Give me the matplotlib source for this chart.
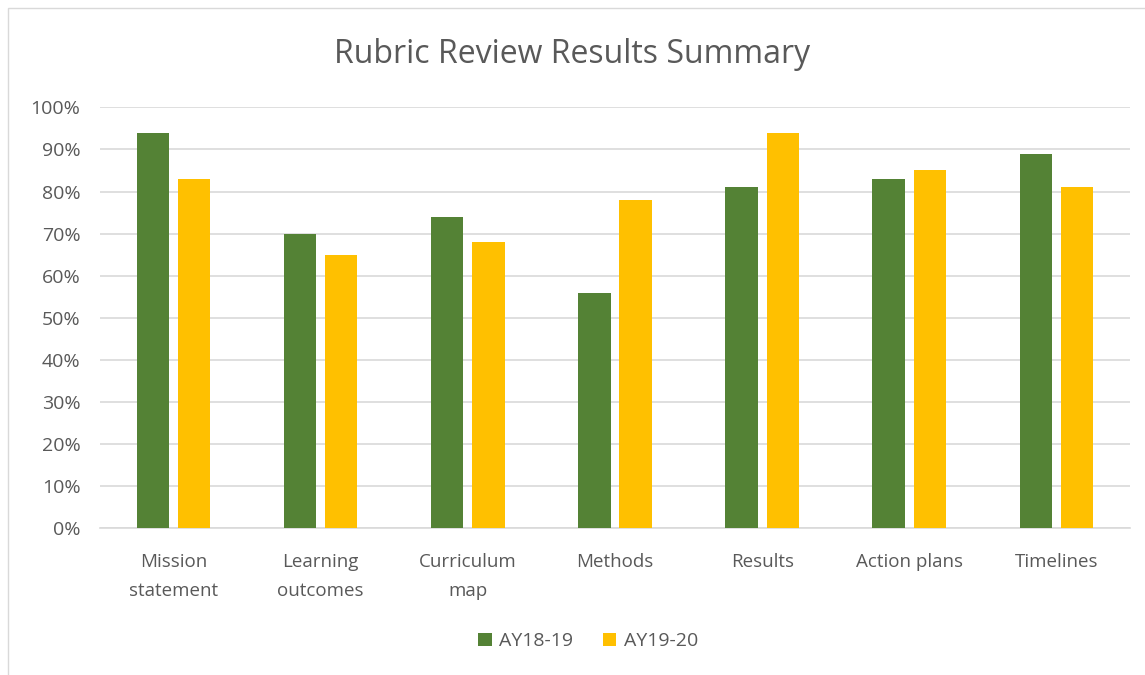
import numpy as np
import matplotlib
matplotlib.use("Agg")
import matplotlib.pyplot as plt
from matplotlib.patches import Rectangle
from matplotlib.ticker import PercentFormatter

categories = ["Mission\nstatement", "Learning\noutcomes", "Curriculum\nmap",
              "Methods", "Results", "Action plans", "Timelines"]
ay1819 = [94, 70, 74, 56, 81, 83, 89]
ay1920 = [83, 65, 68, 78, 94, 85, 81]

plt.rcParams['font.family'] = ['Open Sans', 'DejaVu Sans']
txt = "#595959"

fig = plt.figure(figsize=(11.45, 6.75), dpi=100)
ax = fig.add_axes([0.0873, 0.2173, 0.8996, 0.6237])

x = np.arange(len(categories))
w = 0.22
ax.bar(x - 0.14, ay1819, w, color="#548235", label="AY18-19", zorder=3)
ax.bar(x + 0.14, ay1920, w, color="#FFC000", label="AY19-20", zorder=3)

ax.set_xlim(-0.5, len(categories) - 0.5)
ax.set_ylim(0, 100)
ax.set_yticks(np.arange(0, 101, 10))
ax.yaxis.set_major_formatter(PercentFormatter(decimals=0))
ax.grid(axis="y", color="#d9d9d9", linewidth=1.2, zorder=0)
for s in ["top", "right", "left"]:
    ax.spines[s].set_visible(False)
ax.spines["bottom"].set_color("#d9d9d9")
ax.spines["bottom"].set_linewidth(1.2)
ax.tick_params(axis="both", length=0, colors=txt)
ax.tick_params(axis="y", labelsize=14, pad=14)
ax.set_xticks(x)
ax.set_xticklabels(categories, fontsize=13.5, linespacing=1.75)
ax.tick_params(axis="x", pad=18)

fig.suptitle("Rubric Review Results Summary", fontsize=23, color=txt, y=0.943)

ax.legend(loc="upper center", bbox_to_anchor=(0.474, -0.205), ncol=2,
          frameon=False, fontsize=14, labelcolor=txt, handlelength=0.7,
          handleheight=0.7, columnspacing=1.5, handletextpad=0.4)

fig.patches.append(Rectangle((8 / 1145, -0.1), 1.2, 1.1 - 8 / 675,
                             transform=fig.transFigure, fill=False,
                             edgecolor="#d9d9d9", linewidth=1))

fig.savefig("out.png", dpi=100, facecolor="white")
